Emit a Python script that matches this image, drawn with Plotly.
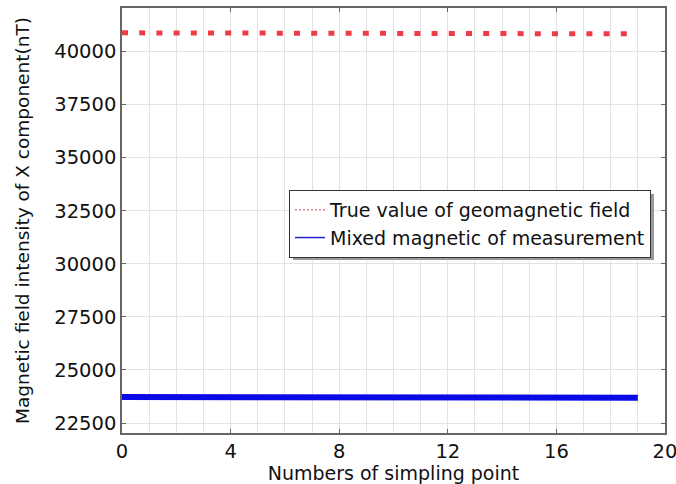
import plotly.graph_objects as go

x_points = list(range(20))
true_field = [40880, 40878, 40876, 40874, 40872, 40870, 40868, 40866, 40864, 40862,
              40860, 40858, 40855, 40852, 40849, 40846, 40843, 40840, 40836, 40832]
mixed_meas = [23720, 23719, 23718, 23717, 23716, 23715, 23714, 23713, 23712, 23711,
              23710, 23709, 23707, 23705, 23703, 23701, 23699, 23697, 23694, 23690]
x_ticks = [0, 4, 8, 12, 16, 20]
y_ticks = [22500, 25000, 27500, 30000, 32500, 35000, 37500, 40000]

name_true = "True value of geomagnetic field"
name_mix = "Mixed magnetic of measurement"

fig = go.Figure()
fig.add_trace(go.Scatter(x=x_points, y=true_field, mode="lines", showlegend=False,
                         line=dict(color="#ef3b47", width=5, dash="6px,11.2px")))
fig.add_trace(go.Scatter(x=x_points, y=mixed_meas, mode="lines", showlegend=False,
                         line=dict(color="#0a0ae6", width=6)))
fig.add_trace(go.Scatter(x=[None], y=[None], mode="lines", name=name_true,
                         line=dict(color="#d04050", width=1, dash="2px,2px")))
fig.add_trace(go.Scatter(x=[None], y=[None], mode="lines", name=name_mix,
                         line=dict(color="#2020d0", width=1.5)))

font = "DejaVu Sans"
fig.update_layout(
    width=676, height=484,
    margin=dict(l=122, r=11, t=8, b=51),
    paper_bgcolor="white", plot_bgcolor="white",
    font=dict(family=font, color="#111", size=16),
    legend=dict(x=(289 - 122) / 543, y=(433 - 190) / 425, xanchor="left", yanchor="top",
                bgcolor="white", bordercolor="#333", borderwidth=1,
                font=dict(size=19, family=font), itemwidth=30,
                tracegroupgap=0),
    xaxis=dict(range=[0, 20], tickvals=x_ticks, ticks="inside", ticklen=4,
               tickcolor="#666", showline=True, linecolor="#666", linewidth=1.5,
               mirror="ticks", showgrid=True, gridcolor="#e3e3e3",
               minor=dict(dtick=1, showgrid=True, gridcolor="#e3e3e3"),
               tickfont=dict(size=19.5), zeroline=False, automargin=False,
               ticklabeloverflow="allow",
               title=dict(text="Numbers of simpling point", font=dict(size=19), standoff=0)),
    yaxis=dict(range=[22030, 42050], tickvals=y_ticks, tickformat="d", ticks="inside", ticklen=4,
               tickcolor="#666", showline=True, linecolor="#666", linewidth=1.5,
               mirror="ticks", showgrid=True, gridcolor="#e3e3e3",
               tickfont=dict(size=19.5), zeroline=False, automargin=False,
               ticklabeloverflow="allow",
               title=dict(text="Magnetic field intensity of X component(nT)",
                          font=dict(size=18.5), standoff=20)),
)
fig.add_shape(type="rect", xref="paper", yref="paper",
              x0=(293 - 122) / 543, x1=(654 - 122) / 543,
              y0=(433 - 260) / 425, y1=(433 - 194) / 425,
              fillcolor="#999", line=dict(width=0), layer="above")
fig.write_html("out.html", config={"displayModeBar": False},
               post_script="document.body.style.margin='0px';")
